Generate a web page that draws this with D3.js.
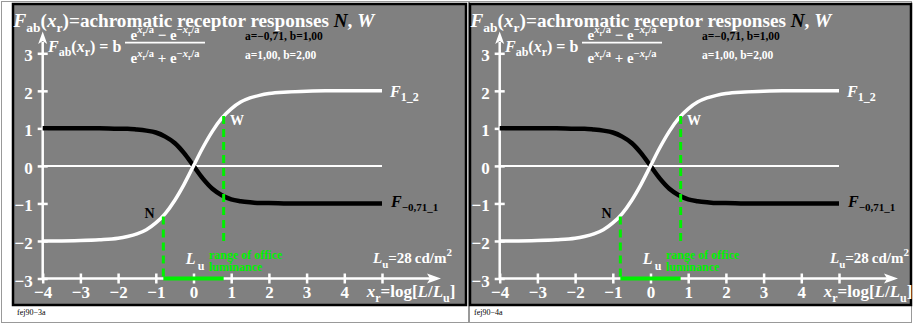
<!DOCTYPE html>
<html>
<head>
<meta charset="utf-8">
<script src="https://cdn.jsdelivr.net/npm/d3@7"></script>
<style>
body{margin:0;background:#fff;}
svg{display:block;font-family:"Liberation Serif","Times New Roman",serif;font-weight:bold;}
</style>
</head>
<body>
<script>
const panels=["fej90\u22123a","fej90\u22124a"];
const xTicks=[-4,-3,-2,-1,0,1,2,3,4,5];
const yTicks=[-3,-2,-1,0,1,2,3];
const xs=[-4,-3.5,-3,-2.5,-2,-1.75,-1.5,-1.25,-1,-0.75,-0.5,-0.25,0,0.25,0.5,0.75,1,1.25,1.5,1.75,2,2.5,3,3.5,4,4.5,5];
const whiteF=[-2.00,-2.00,-1.99,-1.97,-1.93,-1.88,-1.81,-1.70,-1.52,-1.27,-0.92,-0.49,0,0.49,0.92,1.27,1.52,1.70,1.81,1.88,1.93,1.97,1.99,2.00,2.00,2.00,2.00];
const blackF=[1.00,1.00,1.00,1.00,0.99,0.99,0.97,0.94,0.89,0.78,0.61,0.34,0,-0.34,-0.61,-0.78,-0.89,-0.94,-0.97,-0.99,-0.99,-1.00,-1.00,-1.00,-1.00,-1.00,-1.00];
const rangeMarks=[{x:-0.8,top:-1.35,bottom:-3},{x:0.8,top:1.33,bottom:-2}];
const officeRange=[-0.8,0.8];

const width=913,height=324;
const green="#00f000";
const svg=d3.select("body").append("svg").attr("width",width).attr("height",height);

const rich=(g,x,y,parts,o={})=>{
  const t=g.append("text").attr("x",x).attr("y",y)
    .attr("font-size",o.size||15).attr("fill",o.fill||"#fff")
    .attr("text-anchor",o.anchor||"start");
  if(o.weight) t.attr("font-weight",o.weight);
  let cur=0;
  parts.forEach(([txt,opt={}])=>{
    const off=opt.dy||0;
    const s=t.append("tspan").attr("dy",off-cur).text(txt);
    if(opt.s) s.attr("font-size",opt.s);
    if(opt.i) s.attr("font-style","italic");
    if(opt.f) s.attr("fill",opt.f);
    cur=off;
  });
  return t;
};

// outer page frames
[[1.5,467],[469.5,442]].forEach(([fx,fw])=>{
  svg.append("rect").attr("x",fx).attr("y",1.5).attr("width",fw).attr("height",321)
    .attr("fill","none").attr("stroke","#999").attr("stroke-width",1);
});

panels.forEach((name,i)=>{
  const g=svg.append("g").attr("transform",`translate(${i*457},0)`);
  const pw=i===0?453:441;
  g.append("rect").attr("x",13).attr("y",4).attr("width",pw).attr("height",301)
    .attr("fill","#808080").attr("stroke","#000").attr("stroke-width",2.5);

  const x=d3.scaleLinear().domain([-4,5]).range([42.7,382]);
  const y=d3.scaleLinear().domain([-3,3]).range([278.5,53.3]);

  rich(g,13.5,26.5,[["F",{i:1}],["ab",{s:13.5,dy:5}],["("],["x",{i:1}],["r",{s:13.5,dy:5}],
    [")=achromatic receptor responses "],["N",{i:1,f:"#000"}],[", "],["W",{i:1}]],{size:19.2});

  rich(g,48,52,[["F",{i:1}],["ab",{s:12,dy:4}],["("],["x",{i:1}],["r",{s:12,dy:4}],[") = b"]],{size:16});
  const expo=(sign)=>[["e"],["x",{i:1,s:10.5,dy:-6.5}],["r",{s:7.5,dy:-3.5}],["/a",{s:10.5,dy:-6.5}],
    [sign+"e"],["\u2212",{s:10.5,dy:-6.5}],["x",{i:1,s:10.5,dy:-6.5}],["r",{s:7.5,dy:-3.5}],["/a",{s:10.5,dy:-6.5}]];
  rich(g,165,39.5,expo(" \u2212 "),{size:15,anchor:"middle"});
  rich(g,165,63.3,expo(" + "),{size:15,anchor:"middle"});
  g.append("line").attr("x1",125).attr("x2",205).attr("y1",42.7).attr("y2",42.7)
    .attr("stroke","#fff").attr("stroke-width",1.8);

  rich(g,245,40,[["a=\u22120,71, b=1,00"]],{size:11.5,fill:"#000"});
  rich(g,245,59,[["a=1,00, b=2,00"]],{size:11.5});

  // zero line
  g.append("line").attr("x1",x(-4)).attr("x2",x(5)).attr("y1",y(0)).attr("y2",y(0))
    .attr("stroke","#fff").attr("stroke-width",2);

  // axes
  const xAxis=g.append("g").attr("transform",`translate(0,${y(-3)})`)
    .call(d3.axisBottom(x).tickValues(xTicks).tickFormat(d=>d===5?"":d3.format("d")(d)));
  const yAxis=g.append("g").attr("transform",`translate(${x(-4)},0)`)
    .call(d3.axisLeft(y).tickValues(yTicks).tickFormat(d3.format("d")));
  [xAxis,yAxis].forEach(a=>{
    a.select(".domain").remove();
    a.attr("font-family",null).attr("font-size",null);
    a.selectAll(".tick line").attr("stroke","#fff").attr("stroke-width",2.5);
    a.selectAll(".tick text").attr("fill","#fff").attr("font-size",17);
  });
  xAxis.selectAll(".tick line").attr("y1",-5).attr("y2",5);
  xAxis.selectAll(".tick text").attr("y",19).attr("dy",null);
  yAxis.selectAll(".tick line").attr("x1",-5).attr("x2",5);
  yAxis.selectAll(".tick text").attr("x",-10).attr("dy",null).attr("y",7.5);

  g.append("line").attr("x1",x(-4)).attr("x2",430).attr("y1",y(-3)).attr("y2",y(-3))
    .attr("stroke","#fff").attr("stroke-width",2.5);
  g.append("path").attr("d",`M441,${y(-3)}L427,${y(-3)-5}L430,${y(-3)}L427,${y(-3)+5}Z`).attr("fill","#fff");
  g.append("line").attr("x1",x(-4)).attr("x2",x(-4)).attr("y1",y(-3)).attr("y2",42)
    .attr("stroke","#fff").attr("stroke-width",2.5);
  g.append("path").attr("d",`M${x(-4)},31.5L${x(-4)-4.5},44L${x(-4)},41L${x(-4)+4.5},44Z`).attr("fill","#fff");

  // curves
  const line=d3.line().x(d=>x(d[0])).y(d=>y(d[1])).curve(d3.curveMonotoneX);
  g.append("path").attr("d",line(xs.map((v,k)=>[v,blackF[k]])))
    .attr("fill","none").attr("stroke","#000").attr("stroke-width",4.5);
  g.append("path").attr("d",line(xs.map((v,k)=>[v,whiteF[k]])))
    .attr("fill","none").attr("stroke","#fff").attr("stroke-width",3.5);

  // office luminance range
  g.selectAll(".rm").data(rangeMarks).enter().append("line")
    .attr("x1",d=>x(d.x)).attr("x2",d=>x(d.x)).attr("y1",d=>y(d.top)).attr("y2",d=>y(d.bottom))
    .attr("stroke",green).attr("stroke-width",3).attr("stroke-dasharray","8,5");
  g.append("line").attr("x1",x(officeRange[0])).attr("x2",x(officeRange[1]))
    .attr("y1",y(-3)).attr("y2",y(-3)).attr("stroke",green).attr("stroke-width",4);

  rich(g,x(-1.3),y(-1.39),[["N"]],{size:14,fill:"#000"});
  rich(g,x(0.97),y(1.09),[["W"]],{size:14});

  rich(g,390,96.7,[["F",{i:1}],["1_2",{s:12,dy:4}]],{size:16});
  rich(g,391,206.7,[["F",{i:1}],["\u22120,71_1",{s:11,dy:4}]],{size:16,fill:"#000"});

  rich(g,185.7,264,[["L",{i:1}],["\u2009u",{s:12,dy:6}]],{size:16});
  rich(g,209,258.5,[["range of office"]],{size:12,fill:green});
  rich(g,209,271,[["luminance"]],{size:12,fill:green});
  rich(g,373,263.3,[["L",{i:1}],["u",{s:11,dy:5}],["=28\u2009cd/m"],["2",{s:11,dy:-7}]],{size:15});
  rich(g,366.7,297.3,[["x",{i:1}],["r",{s:12,dy:5}],["=log["],["L",{i:1}],["/"],["L",{i:1}],["u",{s:12,dy:5}],["]"]],{size:17});

  rich(g,17,315,[[name]],{size:8,fill:"#000",weight:"normal"});
});
</script>
</body>
</html>
